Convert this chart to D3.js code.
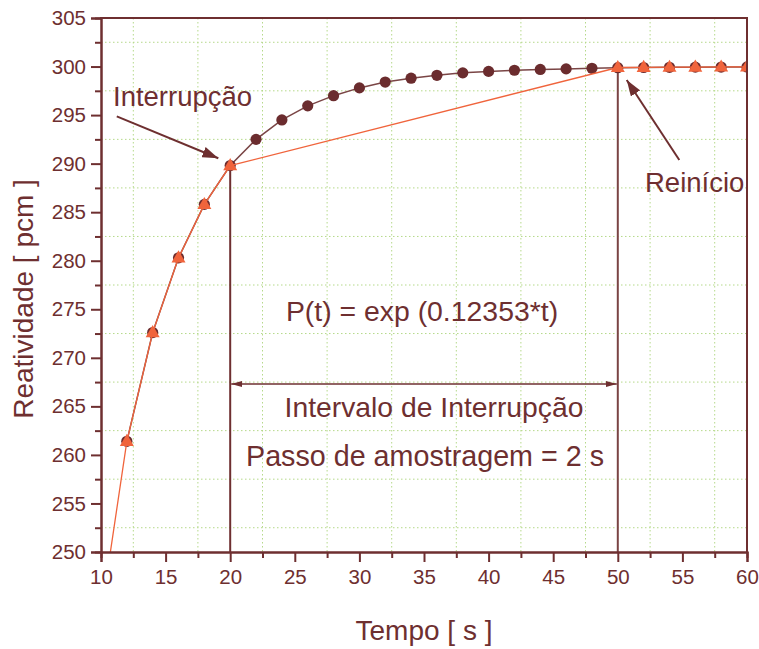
<!DOCTYPE html>
<html>
<head>
<meta charset="utf-8">
<script src="https://cdn.jsdelivr.net/npm/d3@7/dist/d3.min.js"></script>
<style>
  html, body { margin: 0; padding: 0; background: #ffffff; }
  svg { display: block; font-family: "Liberation Sans", Arial, sans-serif; }
</style>
</head>
<body>
<svg id="chart" width="759" height="649"></svg>
<script>
// ---- data ----
const circleTime  = [12,14,16,18,20,22,24,26,28,30,32,34,36,38,40,42,44,46,48,50,52,54,56,58,60];
const circleValue = [261.4,272.6,280.3,285.8,289.8,292.5,294.5,295.95,297.0,297.8,298.4,298.8,299.1,299.35,299.5,299.62,299.7,299.76,299.82,299.88,299.9,299.92,299.94,299.95,299.96];
const triTime  = [10,12,14,16,18,20,50,52,54,56,58,60];
const triValue = [243.5,261.4,272.6,280.3,285.8,289.8,299.9,299.92,299.94,299.95,299.96,299.97];
const xTicks = [10,15,20,25,30,35,40,45,50,55,60];
const yTicks = [250,255,260,265,270,275,280,285,290,295,300,305];
const xMinor = [12.5,17.5,22.5,27.5,32.5,37.5,42.5,47.5,52.5,57.5];
const yMinor = [252.5,257.5,262.5,267.5,272.5,277.5,282.5,287.5,292.5,297.5,302.5];
const interruptStart = 20, interruptEnd = 50, arrowLevel = 267.3;

// ---- layout ----
const C = "#6e2f30";
const ORANGE = "#f0643c";
const svg = d3.select("#chart");
const x = d3.scaleLinear().domain([10,60]).range([101,747]);
const y = d3.scaleLinear().domain([250,305]).range([552,18]);

const defs = svg.append("defs");
defs.append("clipPath").attr("id","clip").append("rect")
  .attr("x",101).attr("y",18).attr("width",646).attr("height",534);
function mk(id, L, W) {
  defs.append("marker").attr("id",id).attr("viewBox",`0 ${-W} ${L} ${2*W}`)
    .attr("refX",L).attr("refY",0).attr("markerWidth",L).attr("markerHeight",2*W)
    .attr("markerUnits","userSpaceOnUse").attr("orient","auto-start-reverse")
    .append("path").attr("d",`M0,${-W}L${L},0L0,${W}Z`).attr("fill",C);
}
mk("ah", 16, 5.5);
mk("ah2", 11, 3);

// grid (minor positions, dotted)
const grid = svg.append("g");
grid.selectAll("line.gx").data(xMinor).join("line")
  .attr("x1",d=>x(d)).attr("x2",d=>x(d)).attr("y1",18).attr("y2",552)
  .attr("stroke","#b5d98a").attr("stroke-width",1).attr("stroke-dasharray","1.5,2.5");
grid.selectAll("line.gy").data(yMinor).join("line")
  .attr("y1",d=>y(d)).attr("y2",d=>y(d)).attr("x1",101).attr("x2",747)
  .attr("stroke","#b5d98a").attr("stroke-width",1).attr("stroke-dasharray","1.5,2.5");

// vertical marker lines + double arrow
svg.append("line").attr("x1",x(interruptStart)).attr("x2",x(interruptStart))
  .attr("y1",y(triValue[5])).attr("y2",y(250)).attr("stroke",C).attr("stroke-width",2);
svg.append("line").attr("x1",x(interruptEnd)).attr("x2",x(interruptEnd))
  .attr("y1",y(triValue[6])).attr("y2",y(250)).attr("stroke","#7a4444").attr("stroke-width",2);
svg.append("line").attr("x1",x(interruptStart)+1).attr("x2",x(interruptEnd)-1)
  .attr("y1",y(arrowLevel)).attr("y2",y(arrowLevel))
  .attr("stroke",C).attr("stroke-width",1.5)
  .attr("marker-start","url(#ah2)").attr("marker-end","url(#ah2)");

// series
const plot = svg.append("g").attr("clip-path","url(#clip)");
const line = d3.line().x(d=>x(d[0])).y(d=>y(d[1]));
const cData = circleTime.map((t,i)=>[t,circleValue[i]]);
const tData = triTime.map((t,i)=>[t,triValue[i]]);
plot.append("path").attr("d",line(cData)).attr("fill","none")
  .attr("stroke","#7a4545").attr("stroke-width",1.5);
plot.selectAll("circle").data(cData).join("circle")
  .attr("cx",d=>x(d[0])).attr("cy",d=>y(d[1])).attr("r",5.6).attr("fill","#6b2c2e");
plot.append("path").attr("d",line(tData)).attr("fill","none")
  .attr("stroke",ORANGE).attr("stroke-width",1.3);
plot.selectAll("path.tri").data(tData).join("path").attr("class","tri")
  .attr("transform",d=>`translate(${x(d[0])},${y(d[1])})`)
  .attr("d","M0,-7.5L7,4.6L-7,4.6Z").attr("fill",ORANGE);

// axes
const xAxis = svg.append("g").attr("transform","translate(0,552)");
xAxis.call(d3.axisBottom(x).tickValues(xTicks).tickSize(10).tickPadding(7).tickFormat(d3.format("d")));
const xMin = svg.append("g").attr("transform","translate(0,552)")
  .call(d3.axisBottom(x).tickValues(xMinor).tickSize(6).tickFormat(""));
const yAxis = svg.append("g").attr("transform","translate(101,0)");
yAxis.call(d3.axisLeft(y).tickValues(yTicks).tickSize(10).tickPadding(5).tickFormat(d3.format("d")));
const yMin = svg.append("g").attr("transform","translate(101,0)")
  .call(d3.axisLeft(y).tickValues(yMinor).tickSize(6).tickFormat(""));
[xAxis,xMin,yAxis,yMin].forEach(g=>{
  g.select(".domain").attr("stroke",C).attr("stroke-width",2);
  g.selectAll(".tick line").attr("stroke",C).attr("stroke-width",2);
  g.selectAll(".tick text").attr("fill",C).attr("font-size",20.5)
    .attr("font-family","'Liberation Sans', Arial, sans-serif");
});
// top & right frame
svg.append("line").attr("x1",100).attr("x2",748).attr("y1",18).attr("y2",18).attr("stroke",C).attr("stroke-width",2);
svg.append("line").attr("x1",747).attr("x2",747).attr("y1",18).attr("y2",553).attr("stroke",C).attr("stroke-width",2);

// axis titles
svg.append("text").attr("x",424).attr("y",640).attr("text-anchor","middle")
  .attr("fill",C).attr("font-size",28).text("Tempo [ s ]");
svg.append("text").attr("transform","translate(33,299) rotate(-90)").attr("text-anchor","middle")
  .attr("fill",C).attr("font-size",28).text("Reatividade [ pcm ]");

// annotations
const ann = [
  {t:"Interrupção", x:113, y:106, a:"start", s:27.5},
  {t:"Reinício", x:645, y:192, a:"start", s:27.5},
  {t:"P(t) = exp (0.12353*t)", x:422, y:321, a:"middle", s:28.4},
  {t:"Intervalo de Interrupção", x:434, y:417, a:"middle", s:28.3},
  {t:"Passo de amostragem = 2 s", x:425, y:466, a:"middle", s:28.7}
];
svg.selectAll("text.ann").data(ann).join("text").attr("class","ann")
  .attr("x",d=>d.x).attr("y",d=>d.y).attr("text-anchor",d=>d.a)
  .attr("fill",C).attr("font-size",d=>d.s).text(d=>d.t);

svg.append("line").attr("x1",x(11.22)).attr("y1",y(294.87)).attr("x2",x(19.08)).attr("y2",y(290.55))
  .attr("stroke",C).attr("stroke-width",2).attr("marker-end","url(#ah)");
svg.append("line").attr("x1",x(54.76)).attr("y1",y(290.37)).attr("x2",x(50.69)).attr("y2",y(298.61))
  .attr("stroke",C).attr("stroke-width",2).attr("marker-end","url(#ah)");
</script>
</body>
</html>
